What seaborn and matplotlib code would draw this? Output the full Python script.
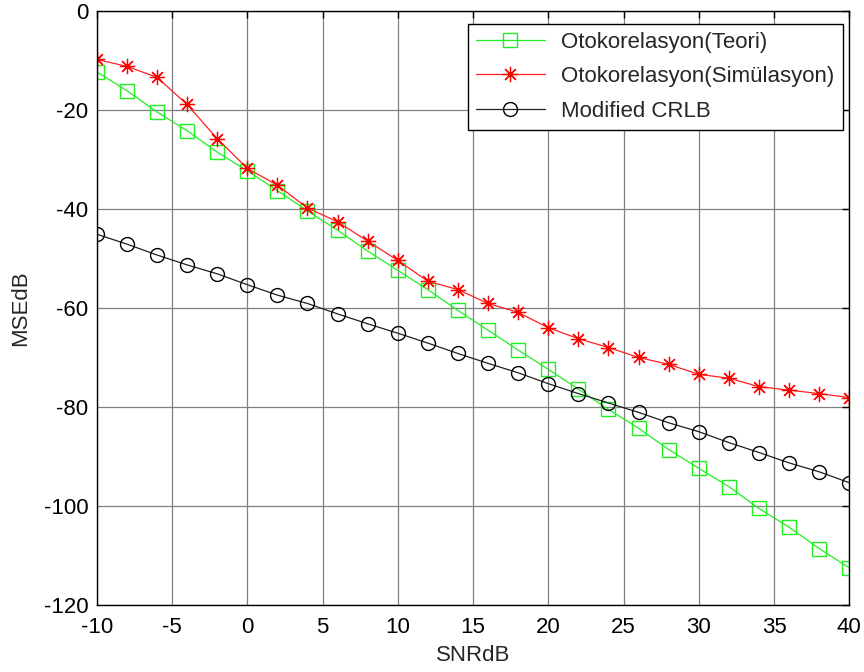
import numpy as np
import pandas as pd
import matplotlib
matplotlib.use('Agg')
import matplotlib.pyplot as plt
import seaborn as sns

snr_db = [-10, -8, -6, -4, -2, 0, 2, 4, 6, 8, 10, 12, 14, 16, 18, 20,
          22, 24, 26, 28, 30, 32, 34, 36, 38, 40]

teori = [-12.2, -16.0, -20.3, -24.1, -28.4, -32.2, -36.2, -40.3, -44.2, -48.4,
         -52.3, -56.2, -60.4, -64.4, -68.4, -72.3, -76.3, -80.4, -84.2, -88.5,
         -92.3, -96.0, -100.4, -104.2, -108.5, -112.4]

simulasyon = [-9.7, -11.1, -13.3, -18.8, -25.7, -31.7, -35.1, -39.7, -42.5, -46.4,
              -50.3, -54.5, -56.2, -59.0, -60.8, -63.9, -66.1, -67.9, -69.9, -71.3,
              -73.3, -74.1, -75.8, -76.5, -77.2, -78.0]

crlb = [-45.0, -47.0, -49.2, -51.2, -53.0, -55.2, -57.3, -59.0, -61.1, -63.1,
        -65.0, -67.0, -69.1, -71.1, -73.0, -75.2, -77.2, -79.1, -81.0, -83.1,
        -84.9, -87.1, -89.1, -91.2, -93.0, -95.2]

labels = ['Otokorelasyon(Teori)', 'Otokorelasyon(Simülasyon)', 'Modified CRLB']

sns.set_theme(style='white')
plt.rcParams['font.family'] = ['Liberation Sans', 'DejaVu Sans']
plt.rcParams['axes.unicode_minus'] = False

fig = plt.figure(figsize=(8.64, 6.72), dpi=100)
ax = fig.add_axes([0.112, 0.099, 0.871, 0.884])

sns.lineplot(x=snr_db, y=teori, ax=ax, color='#22ee22', lw=0.9, marker='s',
             markersize=10, markerfacecolor='none', markeredgecolor='#22ee22',
             markeredgewidth=1.0, label=labels[0])
sns.lineplot(x=snr_db, y=simulasyon, ax=ax, color='#ff2020', lw=0.9, marker=(8, 2, 0),
             markersize=11, markeredgecolor='#ff0000', markeredgewidth=0.9,
             label=labels[1])
sns.lineplot(x=snr_db, y=crlb, ax=ax, color='#202020', lw=0.9, marker='o',
             markersize=10, markerfacecolor='none', markeredgecolor='black',
             markeredgewidth=1.0, label=labels[2])

ax.set_xlim(-10, 40)
ax.set_ylim(-120, 0)
ax.set_xticks(np.arange(-10, 41, 5))
ax.set_yticks(np.arange(-120, 1, 20))
ax.grid(True, color='#808080', lw=0.9, ls='-')
ax.set_axisbelow(True)
for s in ax.spines.values():
    s.set_color('black')
    s.set_linewidth(1.0)
ax.tick_params(direction='in', length=5, width=1, top=True, right=True,
               labelsize=16, colors='black')
ax.tick_params(axis='x', pad=8)
ax.tick_params(axis='y', pad=6)
ax.set_xlabel('SNRdB', fontsize=16, labelpad=5)
ax.set_ylabel('MSEdB', fontsize=16, labelpad=9)

leg = ax.legend(loc='upper right', fontsize=16, frameon=True, fancybox=False,
                framealpha=1, edgecolor='black', handlelength=3.1,
                borderpad=0.36, labelspacing=0.6, handletextpad=0.75,
                borderaxespad=0, bbox_to_anchor=(0.991, 0.979))
leg.get_frame().set_linewidth(1.0)

fig.savefig('out.png', dpi=100)
